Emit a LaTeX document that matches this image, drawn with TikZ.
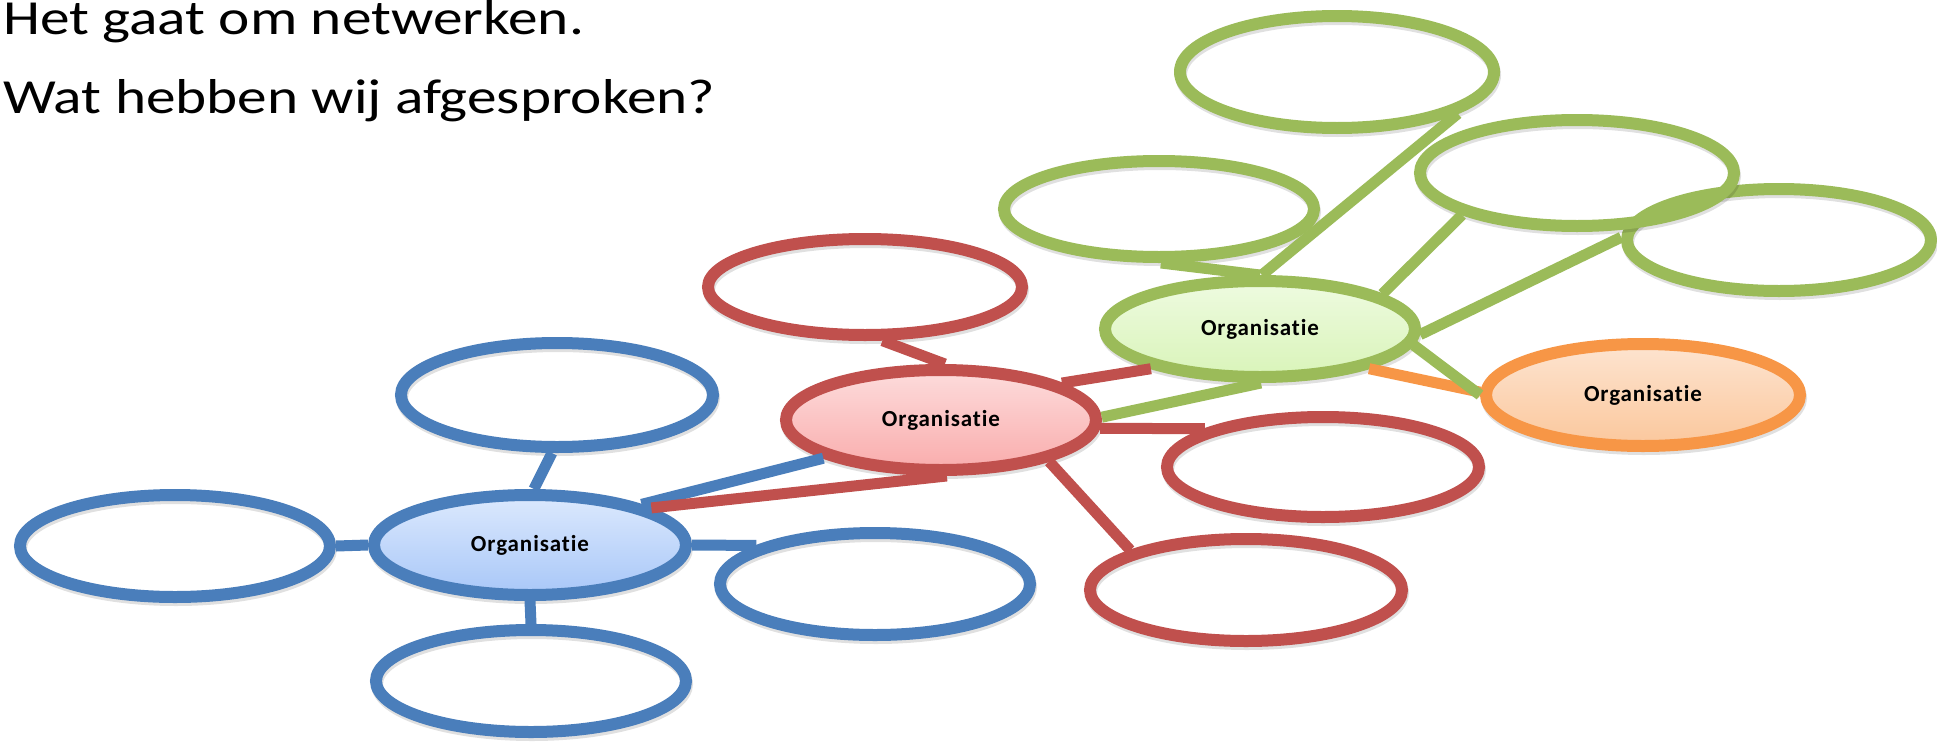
\documentclass[tikz,border=0pt]{standalone}
\usepackage{fontspec}
\setmainfont{Carlito}
\newfontfamily\orgfont[LetterSpace=4,Ligatures=NoCommon]{Carlito}
\usetikzlibrary{shapes.geometric}
\definecolor{cblue}{HTML}{4A7EBB}
\definecolor{cred}{HTML}{C0504D}
\definecolor{cgreen}{HTML}{9BBB59}
\definecolor{corange}{HTML}{F79646}
\tikzset{
  oval/.style={ellipse, line width=12pt, inner sep=0pt,
    preaction={draw=black, draw opacity=0.12, transform canvas={xshift=1pt,yshift=-3pt}}},
  hub/.style={oval, font=\orgfont\bfseries\fontsize{23}{27}\selectfont},
  link/.style={line width=11pt},
  title/.style={anchor=base west, inner sep=0pt, font=\fontsize{49}{58}\selectfont},
}
\begin{document}
\begin{tikzpicture}[x=1pt,y=-1pt]
\fill[white] (0,0) rectangle (1937,744);
\useasboundingbox (0,0) rectangle (1937,744);

\node[title] (t1) at (3,34) {\scalebox{1.21}[1]{Het gaat om netwerken.}};
\node[title] (t2) at (3,113) {\scalebox{1.21}[1]{Wat hebben wij afgesproken?}};

% blue
\node[oval, draw=cblue, minimum width=310pt, minimum height=102pt] (bl) at (175,546) {};
\node[oval, draw=cblue, minimum width=312pt, minimum height=104pt] (bt) at (557,395) {};
\node[oval, draw=cblue, minimum width=310pt, minimum height=102pt] (bb) at (531,681) {};
\node[oval, draw=cblue, minimum width=310pt, minimum height=102pt] (br) at (875,584) {};
\node[hub, draw=cblue, top color={rgb,255:red,220;green,233;blue,253}, bottom color={rgb,255:red,168;green,199;blue,248}, minimum width=312pt, minimum height=100pt] (bc) at (530,545) {Organisatie};
% red
\node[oval, draw=cred, minimum width=314pt, minimum height=96pt] (rt) at (865,287) {};
\node[oval, draw=cred, minimum width=312pt, minimum height=100pt] (rr) at (1323,467) {};
\node[oval, draw=cred, minimum width=312pt, minimum height=102pt] (rb) at (1246,590) {};
\node[hub, draw=cred, top color={rgb,255:red,253;green,220;blue,220}, bottom color={rgb,255:red,249;green,172;blue,172}, minimum width=310pt, minimum height=100pt] (rc) at (941,420) {Organisatie};
% green
\node[oval, draw=cgreen, minimum width=314pt, minimum height=112pt] (gt) at (1337,72) {};
\node[oval, draw=cgreen, minimum width=310pt, minimum height=96pt] (gl) at (1159,209) {};
\node[oval, draw=cgreen, minimum width=304pt, minimum height=102pt] (g2) at (1779,240) {};
\node[oval, draw=cgreen, minimum width=314pt, minimum height=106pt] (g1) at (1577,173) {};
\node[hub, draw=cgreen, top color={rgb,255:red,238;green,251;blue,224}, bottom color={rgb,255:red,217;green,244;blue,185}, minimum width=310pt, minimum height=96pt] (gc) at (1260,329) {Organisatie};
% orange
\node[hub, draw=corange, top color={rgb,255:red,253;green,228;blue,208}, bottom color={rgb,255:red,251;green,199;blue,156}, minimum width=314pt, minimum height=102pt] (oc) at (1643,395) {Organisatie};

% blue connectors
\draw[link,cblue] (bt.-95) -- (bc.86);
\draw[link,cblue] (bc.180) -- (bl.0);
\draw[link,cblue] (bc.-90) -- (bb.90);
\draw[link,cblue] (bc.0) -- (br.162);
\draw[link,cblue] (bc.20) -- (rc.-162);
% red connectors
\draw[link,cred] (bc.17) -- (rc.-84);
\draw[link,cred] (rt.-72) -- (rc.86);
\draw[link,cred] (rc.17) -- (gc.-160);
\draw[link,cred] (rc.-3) -- (rr.162);
\draw[link,cred] (rc.-21) -- (rb.161);
% orange connector
\draw[link,corange] (gc.-20) -- (oc.179);
% green connectors
\draw[link,cgreen] (rc.1) -- (gc.-89);
\draw[link,cgreen] (gl.-88) -- (gc.90);
\draw[link,cgreen] (gt.-19) -- (gc.88);
\draw[link,cgreen] (g1.-160) -- (gc.16);
\draw[link,cgreen] (g2.179) -- (gc.-2);
\draw[link,cgreen] (gc.-6) -- (oc.180);
\end{tikzpicture}
\end{document}
